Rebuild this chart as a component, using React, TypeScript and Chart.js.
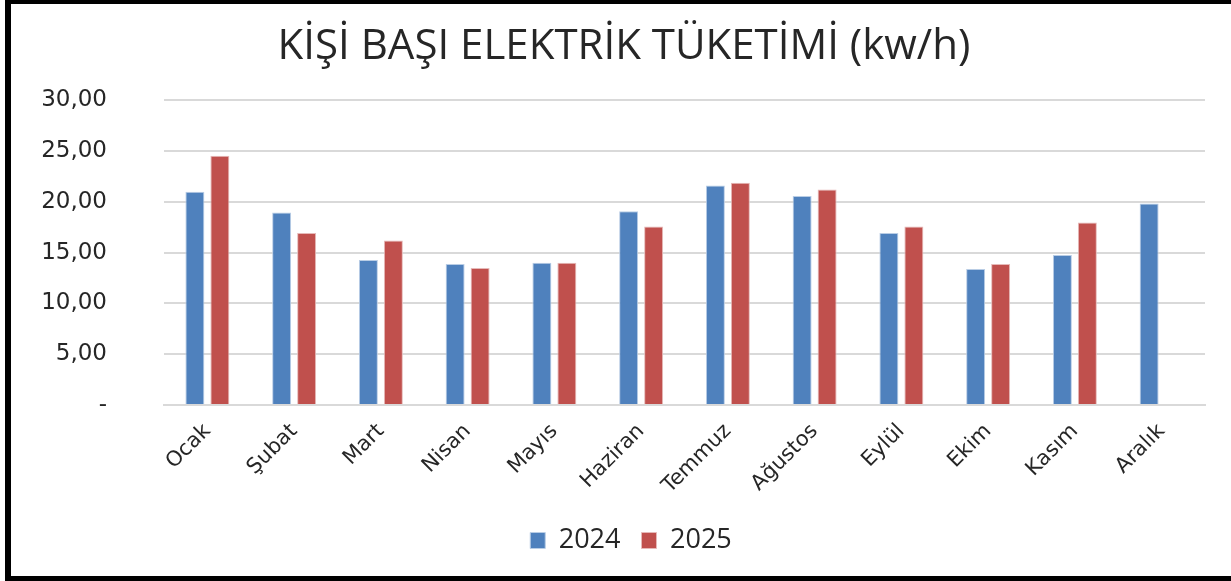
import React, { useEffect, useRef } from "react";
import { Chart, registerables } from "chart.js";

Chart.register(...registerables);

const TITLE = "KİŞİ BAŞI ELEKTRİK TÜKETİMİ (kw/h)";
const MONTHS = ["Ocak", "Şubat", "Mart", "Nisan", "Mayıs", "Haziran", "Temmuz", "Ağustos", "Eylül", "Ekim", "Kasım", "Aralık"];
const SERIES_2024 = [21.0, 18.95, 14.27, 13.88, 14.02, 19.08, 21.62, 20.59, 16.94, 13.39, 14.77, 19.84];
const SERIES_2025: (number | null)[] = [24.54, 16.94, 16.19, 13.49, 14.02, 17.57, 21.88, 21.22, 17.57, 13.88, 17.97, null];
const Y_MIN = 0;
const Y_MAX = 30;
const Y_STEP = 5;

function formatTick(v: number): string {
  if (v === 0) return "-";
  return v.toFixed(2).replace(".", ",");
}

const shiftBoxes = {
  id: "shiftBoxes",
  afterUpdate(chart: any) {
    const lg = chart.legend;
    if (lg) {
      lg.left += 23;
      lg.right += 23;
    }
    const tb = chart.titleBlock;
    if (tb) {
      tb.left += 16;
      tb.right += 16;
    }
  },
};

export default function App() {
  const ref = useRef<HTMLCanvasElement | null>(null);

  useEffect(() => {
    if (!ref.current) return;
    const chart = new Chart(ref.current, {
      type: "bar",
      data: {
        labels: MONTHS,
        datasets: [
          {
            label: "2024",
            data: SERIES_2024,
            backgroundColor: "#4F81BD",
            borderColor: "#b9cde5",
            borderWidth: 1,
            categoryPercentage: 0.576,
            barPercentage: 0.76,
          },
          {
            label: "2025",
            data: SERIES_2025,
            backgroundColor: "#C0504D",
            borderColor: "#e6b9b8",
            borderWidth: 1,
            categoryPercentage: 0.576,
            barPercentage: 0.76,
          },
        ],
      },
      options: {
        responsive: false,
        animation: false,
        devicePixelRatio: 1,
        layout: { padding: { left: 0, right: 26, top: 0, bottom: 12 } },
        plugins: {
          title: {
            display: true,
            text: TITLE,
            color: "#262626",
            font: { family: "'Open Sans', sans-serif", size: 42, weight: "normal", lineHeight: 1.2 },
            padding: { top: 18, bottom: 28 },
          },
          legend: {
            display: true,
            position: "bottom",
            labels: {
              boxWidth: 15,
              boxHeight: 16,
              padding: 21,
              color: "#262626",
              font: { family: "'Open Sans', sans-serif", size: 27 },
            },
          },
          tooltip: { enabled: false },
        },
        scales: {
          x: {
            grid: { display: false },
            border: { display: true, color: "#d9d9d9", width: 2 },
            ticks: {
              color: "#262626",
              font: { family: "'DejaVu Sans', sans-serif", size: 21 },
              minRotation: 45,
              maxRotation: 45,
              padding: 6,
            },
            afterFit: (scale: any) => {
              scale.height = 101;
            },
          },
          y: {
            min: Y_MIN,
            max: Y_MAX,
            grid: { color: "#d9d9d9", lineWidth: 2, drawTicks: false },
            border: { display: false },
            ticks: {
              stepSize: Y_STEP,
              padding: 57,
              color: "#262626",
              font: { family: "'DejaVu Sans', sans-serif", size: 23 },
              callback: (v: any) => formatTick(Number(v)),
            },
            afterFit: (scale: any) => {
              scale.width = 153;
            },
          },
        },
      },
      plugins: [shiftBoxes],
    });
    return () => chart.destroy();
  }, []);

  return (
    <div
      style={{
        position: "fixed",
        left: 0,
        top: 0,
        width: 1231,
        height: 581,
        background: "#fff",
        overflow: "hidden",
      }}
    >
      <div
        style={{
          position: "absolute",
          left: 5,
          top: 0,
          width: 1300,
          height: 581,
          boxSizing: "border-box",
          borderLeft: "6px solid #000",
          borderTop: "4px solid #000",
          borderBottom: "5px solid #000",
        }}
      />
      <canvas
        ref={ref}
        width={1220}
        height={572}
        style={{ position: "absolute", left: 11, top: 4, width: 1220, height: 572 }}
      />
    </div>
  );
}
